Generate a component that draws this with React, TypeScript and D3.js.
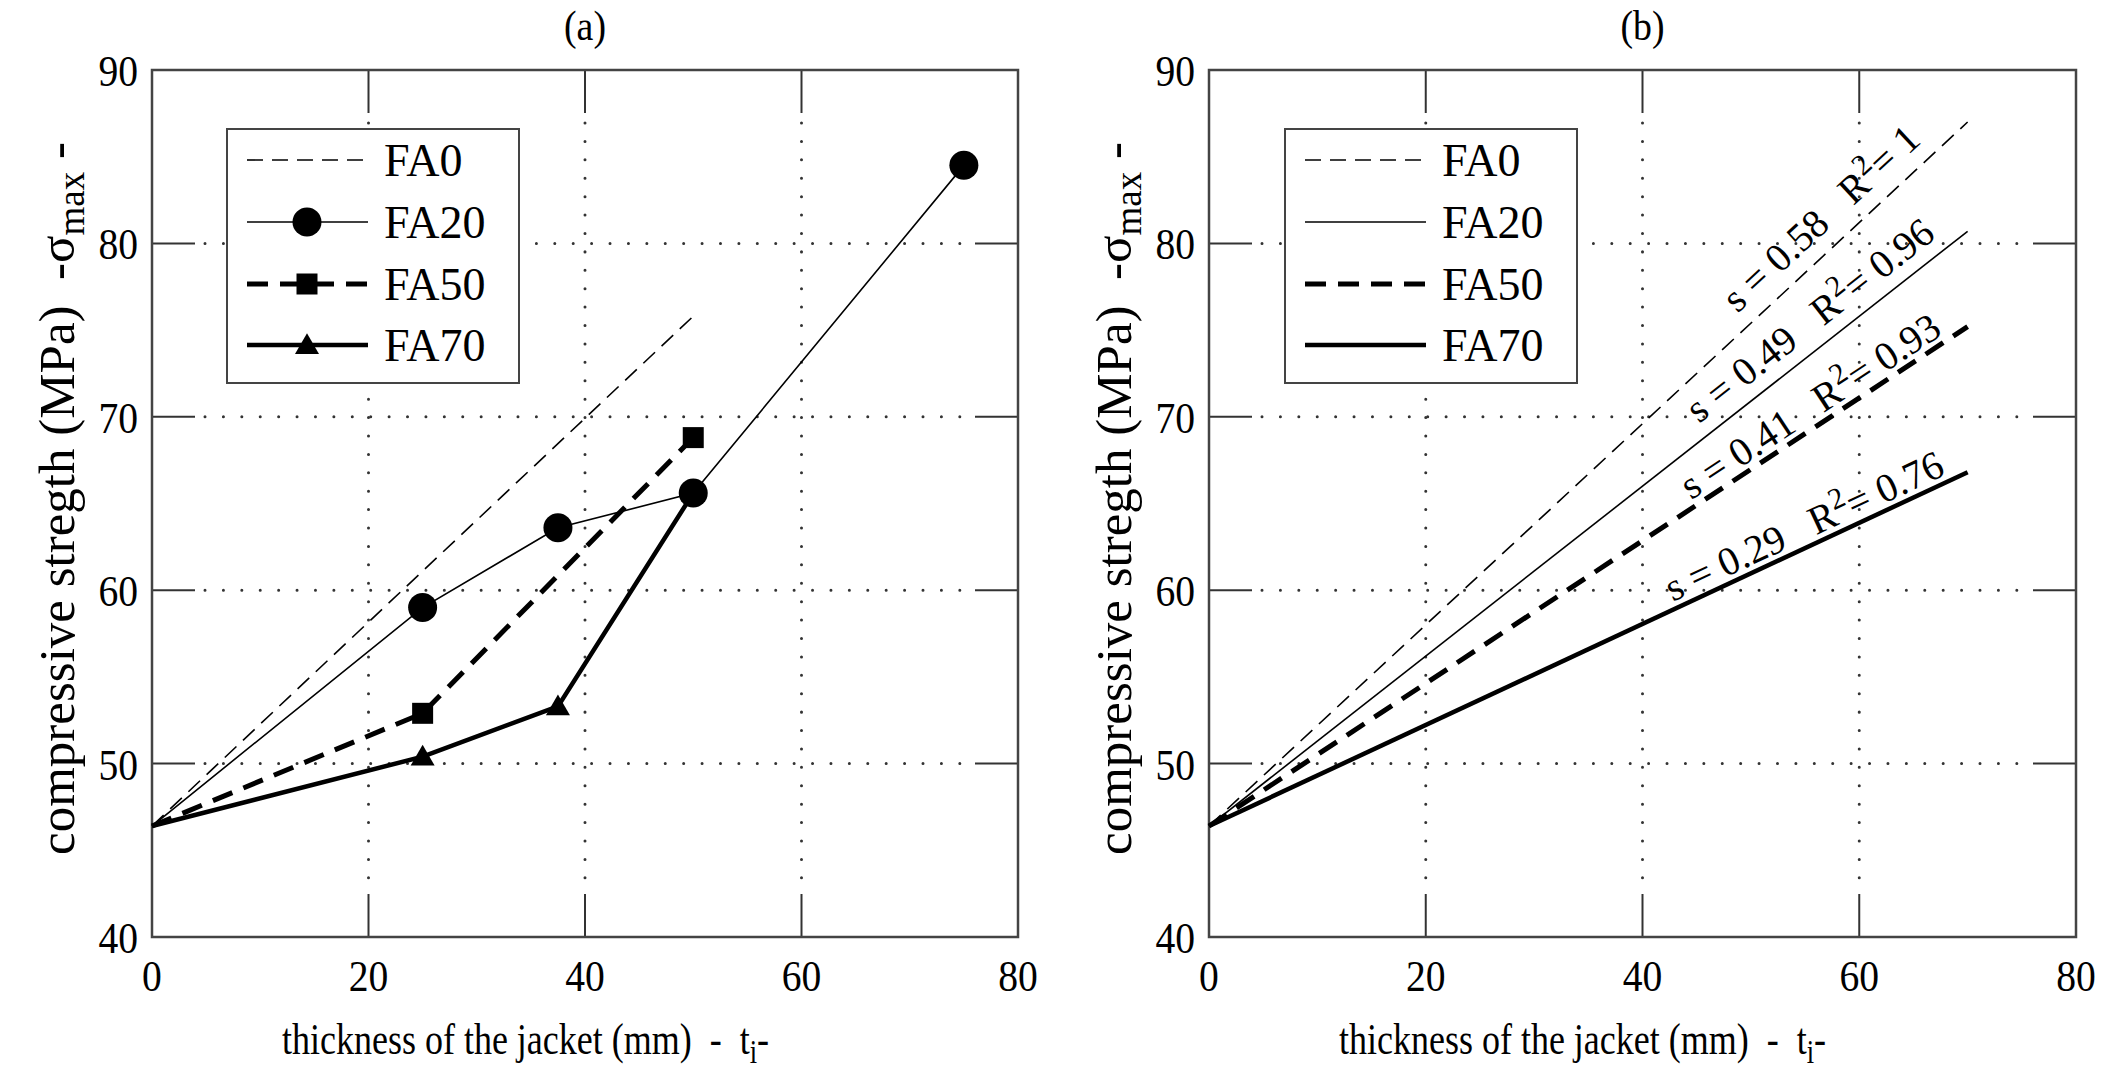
import React from 'react';
import * as d3 from 'd3';

// ---- data ----
const xTicks = [0, 20, 40, 60, 80];
const yTicks = [40, 50, 60, 70, 80, 90];
const seriesNames = ['FA0', 'FA20', 'FA50', 'FA70'];

// panel (a): measured points
const fa0X = [0, 50];
const fa0Y = [46.4, 75.8];
const fa20X = [0, 25, 37.5, 50, 75];
const fa20Y = [46.4, 59.0, 63.6, 65.6, 84.5];
const fa50X = [0, 25, 50];
const fa50Y = [46.4, 52.9, 68.8];
const fa70X = [0, 25, 37.5, 50];
const fa70Y = [46.4, 50.4, 53.3, 65.6];

// panel (b): linear fits
const fitX = [0, 70];
const fitStart = 46.4;
const fitEnd = [87.0, 80.7, 75.2, 66.8];
const fitSlope = ['0.58', '0.49', '0.41', '0.29'];
const fitR2 = ['1', '0.96', '0.93', '0.76'];
const labelAt = [58.3, 57, 56.5, 55.7];
const labelLift = [16, 14, 7, 7];

const FONT = '"Liberation Serif", "Times New Roman", serif';

type Style = { width: number; dash?: string; marker?: 'circle' | 'square' | 'triangle' };
const styles: Style[] = [
  { width: 1.6, dash: '16 9' },
  { width: 1.6, marker: 'circle' },
  { width: 5, dash: '21 12', marker: 'square' },
  { width: 4.5, marker: 'triangle' },
];

const markerPath = (m: string) => {
  if (m === 'circle') return d3.symbol(d3.symbolCircle, Math.PI * 14.5 * 14.5)()!;
  if (m === 'square') return d3.symbol(d3.symbolSquare, 21 * 21)()!;
  return d3.symbol(d3.symbolTriangle, 250)()!;
};

const TICK = 43;

function Frame({ x0, x1, y0, y1, title, xs, ys }: any) {
  const gridGap = 10;
  return (
    <g>
      {/* dotted grid */}
      {xTicks.slice(1, -1).map((t) => (
        <line key={'gx' + t} x1={xs(t)} x2={xs(t)} y1={y0 + TICK + gridGap} y2={y1 - TICK - gridGap}
          stroke="#333" strokeWidth={3} strokeDasharray="0.01 18.4" strokeLinecap="round" />
      ))}
      {yTicks.slice(1, -1).map((t) => (
        <line key={'gy' + t} y1={ys(t)} y2={ys(t)} x1={x0 + TICK + gridGap} x2={x1 - TICK - gridGap}
          stroke="#333" strokeWidth={3} strokeDasharray="0.01 18.4" strokeLinecap="round" />
      ))}
      {/* inward ticks on all sides */}
      {xTicks.slice(1, -1).map((t) => (
        <g key={'tx' + t} stroke="#333" strokeWidth={2}>
          <line x1={xs(t)} x2={xs(t)} y1={y1} y2={y1 - TICK} />
          <line x1={xs(t)} x2={xs(t)} y1={y0} y2={y0 + TICK} />
        </g>
      ))}
      {yTicks.slice(1, -1).map((t) => (
        <g key={'ty' + t} stroke="#333" strokeWidth={2}>
          <line y1={ys(t)} y2={ys(t)} x1={x0} x2={x0 + TICK} />
          <line y1={ys(t)} y2={ys(t)} x1={x1} x2={x1 - TICK} />
        </g>
      ))}
      <rect x={x0} y={y0} width={x1 - x0} height={y1 - y0} fill="none" stroke="#444" strokeWidth={2.5} />
      {/* tick labels (the source figure is slightly narrow/tall) */}
      {xTicks.map((t) => (
        <text key={'lx' + t} transform={`translate(${xs(t)},${y1 + 54}) scale(0.9,1)`} textAnchor="middle" fontSize={44} fontFamily={FONT}>{t}</text>
      ))}
      {yTicks.map((t) => (
        <text key={'ly' + t} transform={`translate(${x0 - 14},${ys(t) + 16}) scale(0.9,1)`} textAnchor="end" fontSize={44} fontFamily={FONT}>{t}</text>
      ))}
      <text transform={`translate(${(x0 + x1) / 2},${y0 - 30}) scale(0.9,1)`} textAnchor="middle" fontSize={42} fontFamily={FONT}>({title})</text>
      {/* axis titles */}
      <text transform={`translate(${x0 + 130},${1054}) scale(0.8,1)`} fontSize={45} fontFamily={FONT}>
        thickness of the jacket (mm)&#160;&#160;-&#160;&#160;t<tspan fontSize={33} dy={9}>i</tspan><tspan dy={-9}>-</tspan>
      </text>
      <text transform={`translate(${x0 - 78},${(y0 + y1) / 2 - 5}) rotate(-90)`} textAnchor="middle" fontSize={51} fontFamily={FONT}>
        compressive stregth (MPa)&#160;&#160;-σ<tspan fontSize={37} dy={10}>max</tspan><tspan dy={-10}>&#160;-</tspan>
      </text>
    </g>
  );
}

function Legend({ x, y, withMarkers }: { x: number; y: number; withMarkers: boolean }) {
  const rowY = [31, 93, 155, 216];
  return (
    <g transform={`translate(${x},${y})`}>
      <rect x={0} y={0} width={292} height={254} fill="white" stroke="#444" strokeWidth={2} />
      {seriesNames.map((n, i) => {
        const s = styles[i];
        return (
          <g key={n}>
            <line x1={20} x2={141} y1={rowY[i]} y2={rowY[i]} stroke="black" strokeWidth={s.width} strokeDasharray={s.dash} />
            {withMarkers && s.marker && (
              <path d={markerPath(s.marker)} transform={`translate(80,${rowY[i] + (s.marker === 'triangle' ? 2 : 0)})`} fill="black" />
            )}
            <text x={157} y={rowY[i] + 16} fontSize={46} fontFamily={FONT}>{n}</text>
          </g>
        );
      })}
    </g>
  );
}

function PanelA() {
  const x0 = 152, x1 = 1018, y0 = 70, y1 = 937;
  const xs = d3.scaleLinear().domain([0, 80]).range([x0, x1]);
  const ys = d3.scaleLinear().domain([40, 90]).range([y1, y0]);
  const xsArr = [fa0X, fa20X, fa50X, fa70X];
  const ysArr = [fa0Y, fa20Y, fa50Y, fa70Y];
  const line = d3.line<[number, number]>().x((d) => xs(d[0])).y((d) => ys(d[1]));
  return (
    <g>
      <Frame x0={x0} x1={x1} y0={y0} y1={y1} title="a" xs={xs} ys={ys} />
      <Legend x={227} y={129} withMarkers={true} />
      {xsArr.map((xv, i) => {
        const pts = xv.map((v, k) => [v, ysArr[i][k]] as [number, number]);
        const s = styles[i];
        return (
          <g key={i}>
            <path d={line(pts)!} fill="none" stroke="black" strokeWidth={s.width} strokeDasharray={s.dash} />
            {s.marker && pts.slice(1).map((p, k) => (
              <path key={k} d={markerPath(s.marker!)} transform={`translate(${xs(p[0])},${ys(p[1]) + (s.marker === 'triangle' ? 2 : 0)})`} fill="black" />
            ))}
          </g>
        );
      })}
    </g>
  );
}

function PanelB() {
  const x0 = 1209, x1 = 2076, y0 = 70, y1 = 937;
  const xs = d3.scaleLinear().domain([0, 80]).range([x0, x1]);
  const ys = d3.scaleLinear().domain([40, 90]).range([y1, y0]);
  const line = d3.line<[number, number]>().x((d) => xs(d[0])).y((d) => ys(d[1]));
  return (
    <g>
      <Frame x0={x0} x1={x1} y0={y0} y1={y1} title="b" xs={xs} ys={ys} />
      <Legend x={1285} y={129} withMarkers={false} />
      {fitEnd.map((e, i) => {
        const pts: [number, number][] = [[fitX[0], fitStart], [fitX[1], e]];
        const s = styles[i];
        const ax = xs(pts[0][0]), ay = ys(pts[0][1]);
        const bx = xs(pts[1][0]), by = ys(pts[1][1]);
        const ang = (Math.atan2(by - ay, bx - ax) * 180) / Math.PI;
        const t = labelAt[i] / fitX[1];
        const px = ax + (bx - ax) * t, py = ay + (by - ay) * t;
        return (
          <g key={i}>
            <path d={line(pts)!} fill="none" stroke="black" strokeWidth={s.width} strokeDasharray={s.dash} />
            <text transform={`translate(${px},${py}) rotate(${ang})`} y={-labelLift[i]} textAnchor="middle" fontSize={40} fontFamily={FONT}>
              s = {fitSlope[i]}&#160;&#160;&#160;R<tspan fontSize={30} dy={-15}>2</tspan><tspan dy={15}>= {fitR2[i]}</tspan>
            </text>
          </g>
        );
      })}
    </g>
  );
}

export default function App() {
  return (
    <svg width={2109} height={1082} style={{ position: 'absolute', left: 0, top: 0, background: 'white' }}>
      <rect width={2109} height={1082} fill="white" />
      <PanelA />
      <PanelB />
    </svg>
  );
}
